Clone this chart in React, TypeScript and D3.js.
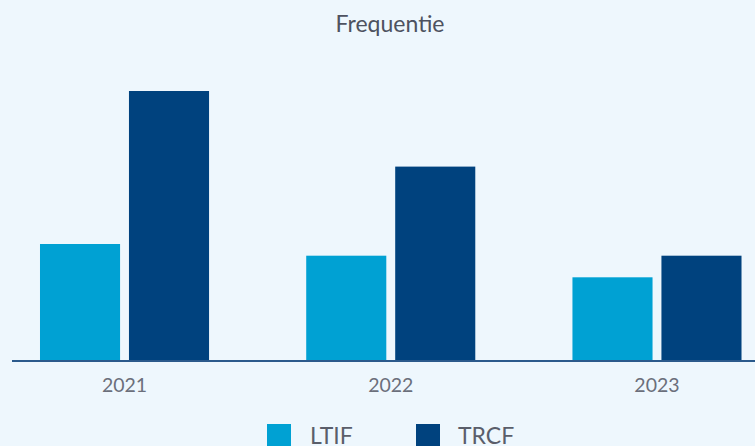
import React from "react";
import * as d3 from "d3";

const years = ["2021", "2022", "2023"];
const seriesNames = ["LTIF", "TRCF"];
const ltif = [1.3, 1.17, 0.93];
const trcf = [3.0, 2.16, 1.17];
const colors = ["#00a1d3", "#00427e"];
const title = "Frequentie";

const W = 755;
const H = 446;
const FONT = "Lato, 'Open Sans', sans-serif";

export default function App() {
  const x0 = d3
    .scaleBand<string>()
    .domain(years)
    .range([-8.6, 790.1])
    .paddingInner(0.365)
    .paddingOuter(0.1825);
  const x1 = d3
    .scaleBand<string>()
    .domain(seriesNames)
    .range([0, x0.bandwidth()])
    .paddingInner(0.1);
  const y = d3.scaleLinear().domain([0, 4]).range([361, 1]);
  const values = [ltif, trcf];

  const legendX = [267, 416];

  return (
    <div style={{ position: "fixed", left: 0, top: 0, width: W, height: H }}>
      <svg width={W} height={H} style={{ display: "block", background: "#eef7fd" }}>
        <rect x={0} y={0} width={W} height={H} fill="#eef7fd" />
        <text
          x={390}
          y={32}
          textAnchor="middle"
          fontFamily={FONT}
          fontSize={23}
          fill="#4d5260"
        >
          {title}
        </text>
        {years.map((yr, i) => (
          <g key={yr} transform={`translate(${x0(yr)},0)`}>
            {seriesNames.map((s, k) => (
              <rect
                key={s}
                x={x1(s)}
                y={y(values[k][i])}
                width={x1.bandwidth()}
                height={y(0) - y(values[k][i])}
                fill={colors[k]}
              />
            ))}
          </g>
        ))}
        <line x1={12} x2={W} y1={361} y2={361} stroke="#2b5a8c" strokeWidth={2} />
        {years.map((yr) => (
          <text
            key={yr}
            x={(x0(yr) as number) + x0.bandwidth() / 2}
            y={392}
            textAnchor="middle"
            fontFamily={FONT}
            fontSize={19.5}
            fill="#6b6f7b"
          >
            {yr}
          </text>
        ))}
        {seriesNames.map((s, k) => (
          <g key={s}>
            <rect x={legendX[k]} y={424} width={24} height={24} fill={colors[k]} />
            <text
              x={legendX[k] + (k === 0 ? 43 : 42)}
              y={443.5}
              fontFamily={FONT}
              fontSize={23}
              fill="#5a5e6a"
            >
              {s}
            </text>
          </g>
        ))}
      </svg>
    </div>
  );
}
